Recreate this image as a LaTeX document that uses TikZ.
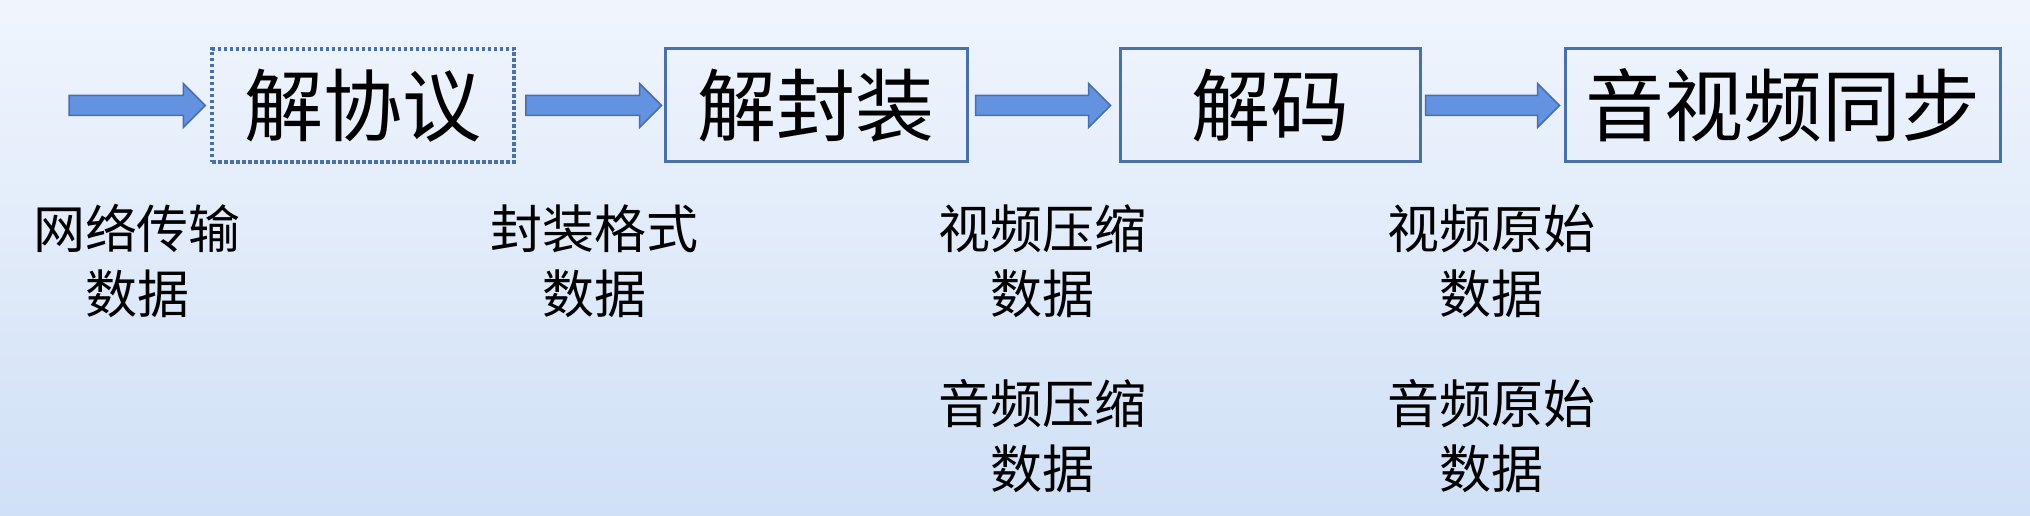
\documentclass[tikz,border=0pt]{standalone}
\usepackage{fontspec}
\newfontfamily\cjk{Noto Sans CJK SC}
\usetikzlibrary{calc}
\definecolor{boxblue}{RGB}{74,112,168}
\definecolor{arrfill}{RGB}{99,146,224}
\definecolor{arredge}{RGB}{72,110,172}
\definecolor{bgtop}{RGB}{240,245,253}
\definecolor{bgbot}{RGB}{208,224,246}
\tikzset{
  stage/.style={draw=boxblue, line width=3pt, minimum height=113pt, inner sep=0pt,
    font=\cjk\fontsize{79}{79}\selectfont, text=black},
  dotstage/.style={stage, line width=3.5pt, dash pattern=on 3.5pt off 2.5pt},
  datalbl/.style={align=center, inner sep=0pt, font=\cjk\fontsize{52}{65}\selectfont, text=black},
  fatarrow/.style={fill=arrfill, draw=arredge, line width=1.5pt, line join=miter}
}
\newcommand\fatarr[2]{%
  \draw[fatarrow] let \p1=(#1), \p2=(#2) in
    (\x1,\y1+10pt) -- (\x2-22pt,\y1+10pt) -- (\x2-22pt,\y1+22pt) -- (\x2,\y1)
    -- (\x2-22pt,\y1-22pt) -- (\x2-22pt,\y1-10pt) -- (\x1,\y1-10pt) -- cycle;}
\begin{document}
\begin{tikzpicture}[x=1pt,y=-1pt]
  \shade[top color=bgtop, bottom color=bgbot] (0,0) rectangle (2030,516);
  \useasboundingbox (0,0) rectangle (2030,516);

  \node[dotstage, minimum width=302pt] (b1) at (363,105.5) {解协议};
  \node[stage, minimum width=302pt] (b2) at (816,105.5) {解封装};
  \node[stage, minimum width=300pt] (b3) at (1270,105.5) {解码};
  \node[stage, minimum width=435pt] (b4) at (1782.5,105.5) {音视频同步};

  \coordinate (in) at (69,105.5);
  \fatarr{in}{$(b1.west)+(-5,0)$}
  \fatarr{$(b1.east)+(10,0)$}{$(b2.west)+(-2,0)$}
  \fatarr{$(b2.east)+(7,0)$}{$(b3.west)+(-8,0)$}
  \fatarr{$(b3.east)+(4,0)$}{$(b4.west)+(-4,0)$}

  \node[datalbl] (l1) at (137,261) {网络传输\\数据};
  \node[datalbl] (l2) at (594,261) {封装格式\\数据};
  \node[datalbl] (l3) at (1042,261) {视频压缩\\数据};
  \node[datalbl] (l4) at (1042,436) {音频压缩\\数据};
  \node[datalbl] (l5) at (1491,261) {视频原始\\数据};
  \node[datalbl] (l6) at (1491,436) {音频原始\\数据};
\end{tikzpicture}
\end{document}
